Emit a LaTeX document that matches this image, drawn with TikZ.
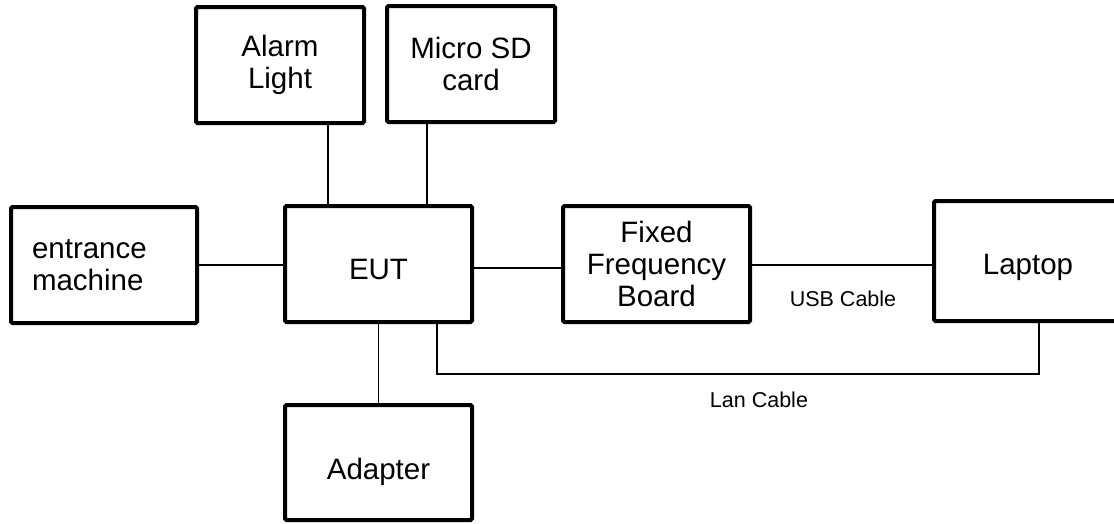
\documentclass[tikz,border=0pt]{standalone}
\usepackage{fontspec}
\setmainfont{Liberation Sans}
\usepackage{tikz}
\tikzset{
  unit/.style={rectangle, rounded corners=1.5pt, draw=black, line width=4pt,
               align=center, minimum width=187pt, minimum height=116pt,
               inner sep=2pt, font=\fontsize{29.5}{32}\selectfont},
  link/.style={draw=black, line width=1.2pt},
  cable/.style={inner sep=0pt, font=\fontsize{21.5}{24}\selectfont},
}
\begin{document}
\begin{tikzpicture}[x=1pt, y=-1pt]
  \useasboundingbox (0,0) rectangle (1114,523);
  \node[unit, minimum width=168pt] (alarm) at (280,65) {Alarm\\ Light};
  \node[unit, minimum width=168pt] (sd) at (471,64) {Micro SD\\ card};
  \node[unit, minimum width=186pt, text width=144pt, align=left] (entr) at (104,265) {entrance\\ machine};
  \node[unit, text height=31pt, text depth=0pt] (eut) at (378.5,264) {EUT};
  \node[unit] (ffb) at (656.5,264) {Fixed\\ Frequency\\ Board};
  \node[unit, minimum width=188pt, minimum height=120pt, text height=26pt, text depth=0pt] (laptop) at (1028,261) {Laptop};
  \node[unit, minimum height=115pt, text height=33pt, text depth=0pt] (adapter) at (378.5,462.5) {Adapter};
  \node[cable] (usb) at (843,299) {USB Cable};
  \node[cable] (lan) at (759,400) {Lan Cable};
  \draw[link] ([xshift=48pt]alarm.south) -- ([xshift=48pt]alarm.south |- eut.north);
  \draw[link] ([xshift=-44pt]sd.south) -- ([xshift=-44pt]sd.south |- eut.north);
  \draw[link] (entr.east) -- (entr.east -| eut.west);
  \draw[link] ([yshift=-4pt]eut.east) -- ([yshift=-4pt]eut.east -| ffb.west);
  \draw[link] ([yshift=-1pt]ffb.east) -- ([yshift=-1pt]ffb.east -| laptop.west);
  \draw[link] (eut.south) -- (adapter.north);
  \draw[link] ([xshift=58.5pt]eut.south) |- ([xshift=11pt,yshift=-51pt]laptop.south) -- ([xshift=11pt]laptop.south);
\end{tikzpicture}
\end{document}
